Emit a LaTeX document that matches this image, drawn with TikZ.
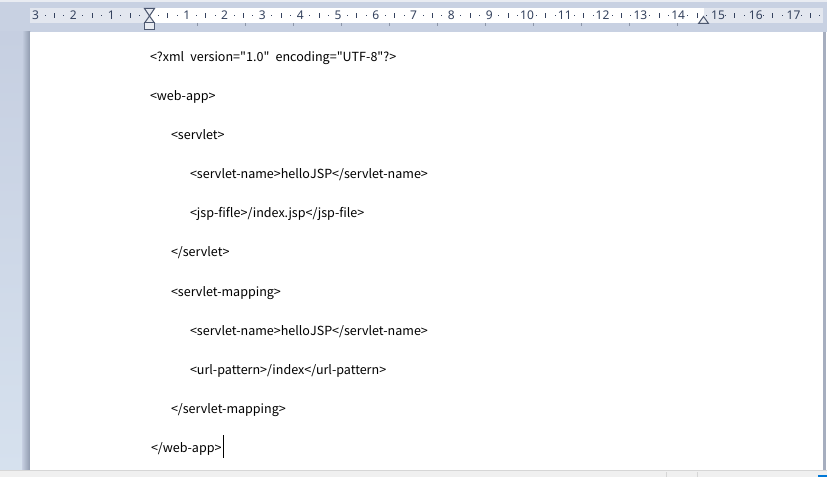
\documentclass[tikz,border=0pt]{standalone}
\usepackage{fontspec}
\setmainfont{Noto Sans CJK KR}[Ligatures=TeXOff]
\newfontfamily\rulerfont{Noto Sans}
\definecolor{band}{HTML}{C8D1E2}
\definecolor{bandtop}{HTML}{E9ECF2}
\definecolor{strip}{HTML}{E3E7EF}
\definecolor{rulertext}{HTML}{34425E}
\definecolor{tabmark}{HTML}{8B95A8}
\definecolor{bgtop}{HTML}{C6CFE1}
\definecolor{bgbot}{HTML}{D6E1EE}
\definecolor{shadowc}{HTML}{8F9AAE}
\definecolor{edgec}{HTML}{A6AEBF}
\definecolor{statusbg}{HTML}{F0F0F0}
\definecolor{statusline}{HTML}{D6D6D6}
\definecolor{winblue}{HTML}{0078D7}
\definecolor{markerfill}{HTML}{E9ECF2}
\definecolor{markerline}{HTML}{4D5870}
\newcommand{\twosp}{\hspace{4.6pt}}
\tikzset{
  codetext/.style={anchor=base west, inner sep=0pt, outer sep=0pt,
    font=\fontsize{9.4pt}{11pt}\selectfont, text=black},
  rulernum/.style={inner sep=0pt, font=\rulerfont\fontsize{9pt}{10pt}\selectfont, text=rulertext},
  indentmark/.style={fill=markerfill, draw=markerline, line width=0.75pt, line join=miter},
}
\begin{document}
\begin{tikzpicture}[x=0.75pt,y=-0.75pt]
\useasboundingbox (0,0) rectangle (827,477);
% ruler band
\fill[band] (0,0) rectangle (827,32);
\fill[bandtop] (0,0) rectangle (827,2.5);
\fill[strip] (30,8.5) rectangle (823,23);
\fill[white] (149.5,8.5) rectangle (703.5,23);
% tab stop marks
\foreach \k in {1,...,11}{
  \fill[tabmark] ({149+48*\k-0.5},23.5) rectangle ({149+48*\k+0.5},26);
}
% ruler ticks
\foreach \n in {-4,...,17}{
  \pgfmathsetmacro{\xa}{149+37.8*(\n+0.25)}
  \pgfmathsetmacro{\xb}{149+37.8*(\n+0.5)}
  \pgfmathsetmacro{\xc}{149+37.8*(\n+0.75)}
  \ifdim\xa pt>31pt \ifdim\xa pt<822pt
    \fill[rulertext] (\xa-0.5,15) rectangle (\xa+0.5,16.2);
  \fi\fi
  \ifdim\xb pt>31pt \ifdim\xb pt<822pt
    \fill[rulertext] (\xb-0.5,13.5) rectangle (\xb+0.5,18);
  \fi\fi
  \ifdim\xc pt>31pt \ifdim\xc pt<822pt
    \fill[rulertext] (\xc-0.5,15) rectangle (\xc+0.5,16.2);
  \fi\fi
}
% ruler numbers
\foreach \n in {1,2,3}{
  \node[rulernum] (rl\n) at ({149-37.8*\n},15.5) {\n};
}
\foreach \n in {1,...,17}{
  \node[rulernum] (rr\n) at ({149+37.8*\n+(\n>14 ? 2 : 0)},15.5) {\n};
}
% indent markers
\draw[indentmark] (144.5,8.5) -- (154.5,8.5) -- (149.5,16) -- cycle;
\draw[indentmark] (149.5,16) -- (144.5,23) -- (154.5,23) -- cycle;
\draw[indentmark] (144.5,23) rectangle (154.5,29.5);
\draw[indentmark] (703.5,16.5) -- (698.5,23.5) -- (708.5,23.5) -- cycle;
% left background and shadow
\shade[top color=bgtop, bottom color=bgbot] (0,32) rectangle (30,470);
\shade[left color=bgtop, right color=shadowc] (22,32) rectangle (30,470);
% page
\fill[white] (30,32) rectangle (822.5,470);
\fill[edgec] (822.5,32) rectangle (826,470);
\fill[white] (826,32) rectangle (827,470);
% status bar
\fill[statusbg] (0,470) rectangle (827,477);
\draw[statusline, line width=0.75pt] (0,470.5) -- (827,470.5);
\draw[statusline, line width=0.75pt] (666.5,472) -- (666.5,477);
\draw[statusline, line width=0.75pt] (697.5,472) -- (697.5,477);
\fill[gray] (756,477) arc[start angle=180, end angle=0, radius=4];
\fill[winblue] (818,475) rectangle (827,477);
% code text
\node[codetext] (l1) at (150,62) {<?xml\twosp version="1.0"\twosp encoding="UTF-8"?>};
\node[codetext] (l2) at (150,101) {<web-app>};
\node[codetext] (l3) at (171,140) {<servlet>};
\node[codetext] (l4) at (190,179) {<servlet-name>helloJSP</servlet-name>};
\node[codetext] (l5) at (190,218) {<jsp-fifle>/index.jsp</jsp-file>};
\node[codetext] (l6) at (171,257) {</servlet>};
\node[codetext] (l7) at (171,296) {<servlet-mapping>};
\node[codetext] (l8) at (190,335) {<servlet-name>helloJSP</servlet-name>};
\node[codetext] (l9) at (190,374) {<url-pattern>/index</url-pattern>};
\node[codetext] (l10) at (171,413) {</servlet-mapping>};
\node[codetext] (l11) at (151,452) {</web-app>};
% cursor
\coordinate (curtop) at ([xshift=1.3pt]l11.base east |- 0,435);
\coordinate (curbot) at ([xshift=1.3pt]l11.base east |- 0,458);
\draw[black, line width=0.75pt] (curtop) -- (curbot);
\end{tikzpicture}
\end{document}
